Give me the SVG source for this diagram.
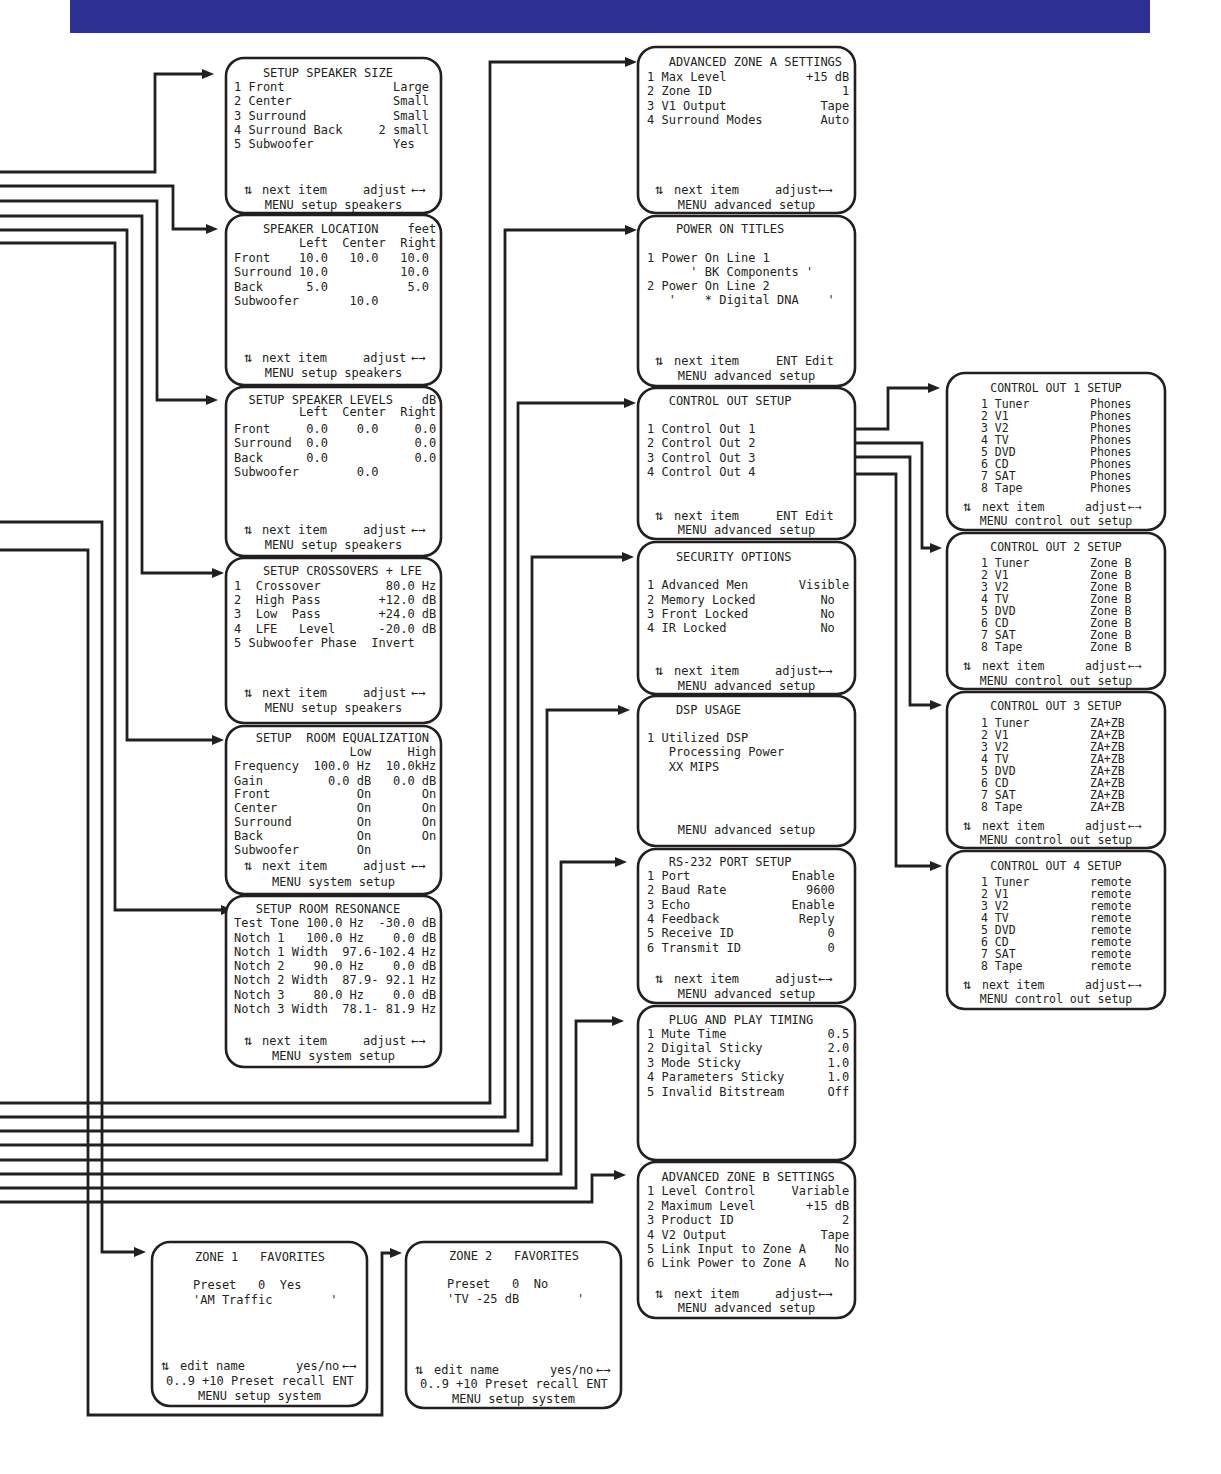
<svg xmlns="http://www.w3.org/2000/svg" width="1221" height="1474" viewBox="0 0 1221 1474">
<defs>
<marker id="ah" markerWidth="12" markerHeight="10" refX="6" refY="5" orient="auto" markerUnits="userSpaceOnUse"><path d="M0,0 L12,5 L0,10 z" fill="#231f20"/></marker>
</defs>
<style>
.bx{fill:#fff;stroke:#231f20;stroke-width:2.6}
.t{font-family:"DejaVu Sans Mono","Liberation Mono",monospace;font-size:12px;fill:#231f20;white-space:pre}
.s{font-size:11.5px}
.m{text-anchor:middle}
.u{font-size:14px}
.c{fill:none;stroke:#231f20;stroke-width:2.8;marker-end:url(#ah)}
</style>
<rect x="70" y="0" width="1080" height="33" fill="#2e3192"/>

<g id="connectors">
<path class="c" d="M0,172 H155 V74 H208"/>
<path class="c" d="M0,186 H173 V229 H212"/>
<path class="c" d="M0,201 H157 V400 H212"/>
<path class="c" d="M0,216 H142 V573 H218"/>
<path class="c" d="M0,230 H127 V740 H218"/>
<path class="c" d="M0,243 H115 V910 H227"/>
<path class="c" d="M0,522 H102 V1252 H140"/>
<path class="c" d="M0,550 H88 V1415 H382 V1253 H396"/>
<path class="c" d="M0,1103 H490 V62 H631"/>
<path class="c" d="M0,1117 H505 V230 H631"/>
<path class="c" d="M0,1131 H518 V403 H630"/>
<path class="c" d="M0,1145 H532 V557 H628"/>
<path class="c" d="M0,1160 H547 V710 H624"/>
<path class="c" d="M0,1174 H561 V862 H621"/>
<path class="c" d="M0,1188 H576 V1021 H618"/>
<path class="c" d="M0,1202 H592 V1175 H620"/>
<path class="c" d="M855,429 H888 V388 H934"/>
<path class="c" d="M855,443 H922 V548 H936"/>
<path class="c" d="M855,457 H910 V705 H936"/>
<path class="c" d="M855,474 H896 V866 H936"/>
</g>

<g id="speaker-size" xml:space="preserve">
<rect class="bx" x="226" y="58" width="215" height="155" rx="18"/>
<text class="t" x="234" y="77">    SETUP SPEAKER SIZE</text>
<text class="t" x="234" y="91">1 Front               Large</text>
<text class="t" x="234" y="105">2 Center              Small</text>
<text class="t" x="234" y="120">3 Surround            Small</text>
<text class="t" x="234" y="134">4 Surround Back     2 small</text>
<text class="t" x="234" y="148">5 Subwoofer           Yes</text>
<text class="t" y="194"><tspan class="u" x="244">⇅</tspan><tspan x="262">next item</tspan><tspan x="363">adjust</tspan><tspan x="411">←→</tspan></text>
<text class="t m" x="333.5" y="209">MENU setup speakers</text>
</g>

<g id="speaker-location" xml:space="preserve">
<rect class="bx" x="226" y="215" width="215" height="170" rx="18"/>
<text class="t" x="234" y="233">    SPEAKER LOCATION    feet</text>
<text class="t" x="234" y="247">         Left  Center  Right</text>
<text class="t" x="234" y="262">Front    10.0   10.0   10.0</text>
<text class="t" x="234" y="276">Surround 10.0          10.0</text>
<text class="t" x="234" y="291">Back      5.0           5.0</text>
<text class="t" x="234" y="305">Subwoofer       10.0</text>
<text class="t" y="362"><tspan class="u" x="244">⇅</tspan><tspan x="262">next item</tspan><tspan x="363">adjust</tspan><tspan x="411">←→</tspan></text>
<text class="t m" x="333.5" y="377">MENU setup speakers</text>
</g>

<g id="speaker-levels" xml:space="preserve">
<rect class="bx" x="226" y="387" width="215" height="169" rx="18"/>
<text class="t" x="234" y="404">  SETUP SPEAKER LEVELS    dB</text>
<text class="t" x="234" y="416">         Left  Center  Right</text>
<text class="t" x="234" y="433">Front     0.0    0.0     0.0</text>
<text class="t" x="234" y="447">Surround  0.0            0.0</text>
<text class="t" x="234" y="462">Back      0.0            0.0</text>
<text class="t" x="234" y="476">Subwoofer        0.0</text>
<text class="t" y="534"><tspan class="u" x="244">⇅</tspan><tspan x="262">next item</tspan><tspan x="363">adjust</tspan><tspan x="411">←→</tspan></text>
<text class="t m" x="333.5" y="549">MENU setup speakers</text>
</g>

<g id="crossovers" xml:space="preserve">
<rect class="bx" x="226" y="558" width="215" height="165" rx="18"/>
<text class="t" x="234" y="575">    SETUP CROSSOVERS + LFE</text>
<text class="t" x="234" y="590">1  Crossover         80.0 Hz</text>
<text class="t" x="234" y="604">2  High Pass        +12.0 dB</text>
<text class="t" x="234" y="618">3  Low  Pass        +24.0 dB</text>
<text class="t" x="234" y="633">4  LFE   Level      -20.0 dB</text>
<text class="t" x="234" y="647">5 Subwoofer Phase  Invert</text>
<text class="t" y="697"><tspan class="u" x="244">⇅</tspan><tspan x="262">next item</tspan><tspan x="363">adjust</tspan><tspan x="411">←→</tspan></text>
<text class="t m" x="333.5" y="712">MENU setup speakers</text>
</g>

<g id="room-eq" xml:space="preserve">
<rect class="bx" x="226" y="726" width="215" height="168" rx="18"/>
<text class="t" x="234" y="742">   SETUP  ROOM EQUALIZATION</text>
<text class="t" x="234" y="756">                Low     High</text>
<text class="t" x="234" y="770">Frequency  100.0 Hz  10.0kHz</text>
<text class="t" x="234" y="785">Gain         0.0 dB   0.0 dB</text>
<text class="t" x="234" y="798">Front            On       On</text>
<text class="t" x="234" y="812">Center           On       On</text>
<text class="t" x="234" y="826">Surround         On       On</text>
<text class="t" x="234" y="840">Back             On       On</text>
<text class="t" x="234" y="854">Subwoofer        On</text>
<text class="t" y="870"><tspan class="u" x="244">⇅</tspan><tspan x="262">next item</tspan><tspan x="363">adjust</tspan><tspan x="411">←→</tspan></text>
<text class="t m" x="333.5" y="886">MENU system setup</text>
</g>

<g id="room-resonance" xml:space="preserve">
<rect class="bx" x="226" y="896" width="215" height="171" rx="18"/>
<text class="t" x="234" y="913">   SETUP ROOM RESONANCE</text>
<text class="t" x="234" y="927">Test Tone 100.0 Hz  -30.0 dB</text>
<text class="t" x="234" y="942">Notch 1   100.0 Hz    0.0 dB</text>
<text class="t" x="234" y="956">Notch 1 Width  97.6-102.4 Hz</text>
<text class="t" x="234" y="970">Notch 2    90.0 Hz    0.0 dB</text>
<text class="t" x="234" y="984">Notch 2 Width  87.9- 92.1 Hz</text>
<text class="t" x="234" y="999">Notch 3    80.0 Hz    0.0 dB</text>
<text class="t" x="234" y="1013">Notch 3 Width  78.1- 81.9 Hz</text>
<text class="t" y="1045"><tspan class="u" x="244">⇅</tspan><tspan x="262">next item</tspan><tspan x="363">adjust</tspan><tspan x="411">←→</tspan></text>
<text class="t m" x="333.5" y="1060">MENU system setup</text>
</g>

<g id="zone-a" xml:space="preserve">
<rect class="bx" x="638" y="47" width="217" height="166" rx="18"/>
<text class="t" x="647" y="66">   ADVANCED ZONE A SETTINGS</text>
<text class="t" x="647" y="81">1 Max Level           +15 dB</text>
<text class="t" x="647" y="95">2 Zone ID                  1</text>
<text class="t" x="647" y="110">3 V1 Output             Tape</text>
<text class="t" x="647" y="124">4 Surround Modes        Auto</text>
<text class="t" y="194"><tspan class="u" x="655">⇅</tspan><tspan x="674">next item</tspan><tspan x="775">adjust</tspan><tspan x="818">←→</tspan></text>
<text class="t m" x="746.5" y="209">MENU advanced setup</text>
</g>

<g id="power-on-titles" xml:space="preserve">
<rect class="bx" x="638" y="216" width="217" height="170" rx="18"/>
<text class="t" x="647" y="233">    POWER ON TITLES</text>
<text class="t" x="647" y="262">1 Power On Line 1</text>
<text class="t" x="647" y="276">      ' BK Components '</text>
<text class="t" x="647" y="290">2 Power On Line 2</text>
<text class="t" x="647" y="304">   '    * Digital DNA    '</text>
<text class="t" y="365"><tspan class="u" x="655">⇅</tspan><tspan x="674">next item</tspan><tspan x="776">ENT Edit</tspan></text>
<text class="t m" x="746.5" y="380">MENU advanced setup</text>
</g>

<g id="control-out-setup" xml:space="preserve">
<rect class="bx" x="638" y="388" width="217" height="151" rx="18"/>
<text class="t" x="647" y="405">   CONTROL OUT SETUP</text>
<text class="t" x="647" y="433">1 Control Out 1</text>
<text class="t" x="647" y="447">2 Control Out 2</text>
<text class="t" x="647" y="462">3 Control Out 3</text>
<text class="t" x="647" y="476">4 Control Out 4</text>
<text class="t" y="520"><tspan class="u" x="655">⇅</tspan><tspan x="674">next item</tspan><tspan x="776">ENT Edit</tspan></text>
<text class="t m" x="746.5" y="534">MENU advanced setup</text>
</g>

<g id="security-options" xml:space="preserve">
<rect class="bx" x="638" y="542" width="217" height="152" rx="18"/>
<text class="t" x="647" y="561">    SECURITY OPTIONS</text>
<text class="t" x="647" y="589">1 Advanced Men       Visible</text>
<text class="t" x="647" y="604">2 Memory Locked         No</text>
<text class="t" x="647" y="618">3 Front Locked          No</text>
<text class="t" x="647" y="632">4 IR Locked             No</text>
<text class="t" y="675"><tspan class="u" x="655">⇅</tspan><tspan x="674">next item</tspan><tspan x="775">adjust</tspan><tspan x="818">←→</tspan></text>
<text class="t m" x="746.5" y="690">MENU advanced setup</text>
</g>

<g id="dsp-usage" xml:space="preserve">
<rect class="bx" x="638" y="696" width="217" height="150" rx="18"/>
<text class="t" x="647" y="714">    DSP USAGE</text>
<text class="t" x="647" y="742">1 Utilized DSP</text>
<text class="t" x="647" y="756">   Processing Power</text>
<text class="t" x="647" y="771">   XX MIPS</text>
<text class="t m" x="746.5" y="834">MENU advanced setup</text>
</g>

<g id="rs232" xml:space="preserve">
<rect class="bx" x="638" y="849" width="217" height="154" rx="18"/>
<text class="t" x="647" y="866">   RS-232 PORT SETUP</text>
<text class="t" x="647" y="880">1 Port              Enable</text>
<text class="t" x="647" y="894">2 Baud Rate           9600</text>
<text class="t" x="647" y="909">3 Echo              Enable</text>
<text class="t" x="647" y="923">4 Feedback           Reply</text>
<text class="t" x="647" y="937">5 Receive ID             0</text>
<text class="t" x="647" y="952">6 Transmit ID            0</text>
<text class="t" y="983"><tspan class="u" x="655">⇅</tspan><tspan x="674">next item</tspan><tspan x="775">adjust</tspan><tspan x="818">←→</tspan></text>
<text class="t m" x="746.5" y="998">MENU advanced setup</text>
</g>

<g id="plug-and-play" xml:space="preserve">
<rect class="bx" x="638" y="1006" width="217" height="154" rx="18"/>
<text class="t" x="647" y="1024">   PLUG AND PLAY TIMING</text>
<text class="t" x="647" y="1038">1 Mute Time              0.5</text>
<text class="t" x="647" y="1052">2 Digital Sticky         2.0</text>
<text class="t" x="647" y="1067">3 Mode Sticky            1.0</text>
<text class="t" x="647" y="1081">4 Parameters Sticky      1.0</text>
<text class="t" x="647" y="1096">5 Invalid Bitstream      Off</text>
</g>

<g id="zone-b" xml:space="preserve">
<rect class="bx" x="638" y="1162" width="217" height="156" rx="18"/>
<text class="t" x="647" y="1181">  ADVANCED ZONE B SETTINGS</text>
<text class="t" x="647" y="1195">1 Level Control     Variable</text>
<text class="t" x="647" y="1210">2 Maximum Level       +15 dB</text>
<text class="t" x="647" y="1224">3 Product ID               2</text>
<text class="t" x="647" y="1239">4 V2 Output             Tape</text>
<text class="t" x="647" y="1253">5 Link Input to Zone A    No</text>
<text class="t" x="647" y="1267">6 Link Power to Zone A    No</text>
<text class="t" y="1298"><tspan class="u" x="655">⇅</tspan><tspan x="674">next item</tspan><tspan x="775">adjust</tspan><tspan x="818">←→</tspan></text>
<text class="t m" x="746.5" y="1312">MENU advanced setup</text>
</g>

<g id="control-out-1" xml:space="preserve">
<rect class="bx" x="947" y="373" width="218" height="157" rx="18"/>
<text class="t s m" x="1056" y="392">CONTROL OUT 1 SETUP</text>
<text class="t s" x="981" y="408">1 Tuner</text><text class="t s" x="1090" y="408">Phones</text>
<text class="t s" x="981" y="420">2 V1</text><text class="t s" x="1090" y="420">Phones</text>
<text class="t s" x="981" y="432">3 V2</text><text class="t s" x="1090" y="432">Phones</text>
<text class="t s" x="981" y="444">4 TV</text><text class="t s" x="1090" y="444">Phones</text>
<text class="t s" x="981" y="456">5 DVD</text><text class="t s" x="1090" y="456">Phones</text>
<text class="t s" x="981" y="468">6 CD</text><text class="t s" x="1090" y="468">Phones</text>
<text class="t s" x="981" y="480">7 SAT</text><text class="t s" x="1090" y="480">Phones</text>
<text class="t s" x="981" y="492">8 Tape</text><text class="t s" x="1090" y="492">Phones</text>
<text class="t s" y="511"><tspan class="u" x="963">⇅</tspan><tspan x="982">next item</tspan><tspan x="1085">adjust</tspan><tspan x="1128">←→</tspan></text>
<text class="t s m" x="1056" y="525">MENU control out setup</text>
</g>

<g id="control-out-2" xml:space="preserve">
<rect class="bx" x="947" y="533" width="218" height="156" rx="18"/>
<text class="t s m" x="1056" y="551">CONTROL OUT 2 SETUP</text>
<text class="t s" x="981" y="567">1 Tuner</text><text class="t s" x="1090" y="567">Zone B</text>
<text class="t s" x="981" y="579">2 V1</text><text class="t s" x="1090" y="579">Zone B</text>
<text class="t s" x="981" y="591">3 V2</text><text class="t s" x="1090" y="591">Zone B</text>
<text class="t s" x="981" y="603">4 TV</text><text class="t s" x="1090" y="603">Zone B</text>
<text class="t s" x="981" y="615">5 DVD</text><text class="t s" x="1090" y="615">Zone B</text>
<text class="t s" x="981" y="627">6 CD</text><text class="t s" x="1090" y="627">Zone B</text>
<text class="t s" x="981" y="639">7 SAT</text><text class="t s" x="1090" y="639">Zone B</text>
<text class="t s" x="981" y="651">8 Tape</text><text class="t s" x="1090" y="651">Zone B</text>
<text class="t s" y="670"><tspan class="u" x="963">⇅</tspan><tspan x="982">next item</tspan><tspan x="1085">adjust</tspan><tspan x="1128">←→</tspan></text>
<text class="t s m" x="1056" y="685">MENU control out setup</text>
</g>

<g id="control-out-3" xml:space="preserve">
<rect class="bx" x="947" y="692" width="218" height="156" rx="18"/>
<text class="t s m" x="1056" y="710">CONTROL OUT 3 SETUP</text>
<text class="t s" x="981" y="727">1 Tuner</text><text class="t s" x="1090" y="727">ZA+ZB</text>
<text class="t s" x="981" y="739">2 V1</text><text class="t s" x="1090" y="739">ZA+ZB</text>
<text class="t s" x="981" y="751">3 V2</text><text class="t s" x="1090" y="751">ZA+ZB</text>
<text class="t s" x="981" y="763">4 TV</text><text class="t s" x="1090" y="763">ZA+ZB</text>
<text class="t s" x="981" y="775">5 DVD</text><text class="t s" x="1090" y="775">ZA+ZB</text>
<text class="t s" x="981" y="787">6 CD</text><text class="t s" x="1090" y="787">ZA+ZB</text>
<text class="t s" x="981" y="799">7 SAT</text><text class="t s" x="1090" y="799">ZA+ZB</text>
<text class="t s" x="981" y="811">8 Tape</text><text class="t s" x="1090" y="811">ZA+ZB</text>
<text class="t s" y="830"><tspan class="u" x="963">⇅</tspan><tspan x="982">next item</tspan><tspan x="1085">adjust</tspan><tspan x="1128">←→</tspan></text>
<text class="t s m" x="1056" y="844">MENU control out setup</text>
</g>

<g id="control-out-4" xml:space="preserve">
<rect class="bx" x="947" y="851" width="218" height="158" rx="18"/>
<text class="t s m" x="1056" y="870">CONTROL OUT 4 SETUP</text>
<text class="t s" x="981" y="886">1 Tuner</text><text class="t s" x="1090" y="886">remote</text>
<text class="t s" x="981" y="898">2 V1</text><text class="t s" x="1090" y="898">remote</text>
<text class="t s" x="981" y="910">3 V2</text><text class="t s" x="1090" y="910">remote</text>
<text class="t s" x="981" y="922">4 TV</text><text class="t s" x="1090" y="922">remote</text>
<text class="t s" x="981" y="934">5 DVD</text><text class="t s" x="1090" y="934">remote</text>
<text class="t s" x="981" y="946">6 CD</text><text class="t s" x="1090" y="946">remote</text>
<text class="t s" x="981" y="958">7 SAT</text><text class="t s" x="1090" y="958">remote</text>
<text class="t s" x="981" y="970">8 Tape</text><text class="t s" x="1090" y="970">remote</text>
<text class="t s" y="989"><tspan class="u" x="963">⇅</tspan><tspan x="982">next item</tspan><tspan x="1085">adjust</tspan><tspan x="1128">←→</tspan></text>
<text class="t s m" x="1056" y="1003">MENU control out setup</text>
</g>

<g id="zone-1-favorites" xml:space="preserve">
<rect class="bx" x="152" y="1242" width="215" height="164" rx="18"/>
<text class="t" x="195" y="1261">ZONE 1   FAVORITES</text>
<text class="t" x="193" y="1289">Preset   0  Yes</text>
<text class="t" x="193" y="1304">'AM Traffic        '</text>
<text class="t" y="1370"><tspan class="u" x="161">⇅</tspan><tspan x="180">edit name</tspan><tspan x="296">yes/no</tspan><tspan x="342">←→</tspan></text>
<text class="t" x="166" y="1385">0..9 +10 Preset recall ENT</text>
<text class="t m" x="259.5" y="1400">MENU setup system</text>
</g>

<g id="zone-2-favorites" xml:space="preserve">
<rect class="bx" x="406" y="1242" width="215" height="166" rx="18"/>
<text class="t" x="449" y="1260">ZONE 2   FAVORITES</text>
<text class="t" x="447" y="1288">Preset   0  No</text>
<text class="t" x="447" y="1303">'TV -25 dB        '</text>
<text class="t" y="1374"><tspan class="u" x="415">⇅</tspan><tspan x="434">edit name</tspan><tspan x="550">yes/no</tspan><tspan x="596">←→</tspan></text>
<text class="t" x="420" y="1388">0..9 +10 Preset recall ENT</text>
<text class="t m" x="513.5" y="1403">MENU setup system</text>
</g>
</svg>
